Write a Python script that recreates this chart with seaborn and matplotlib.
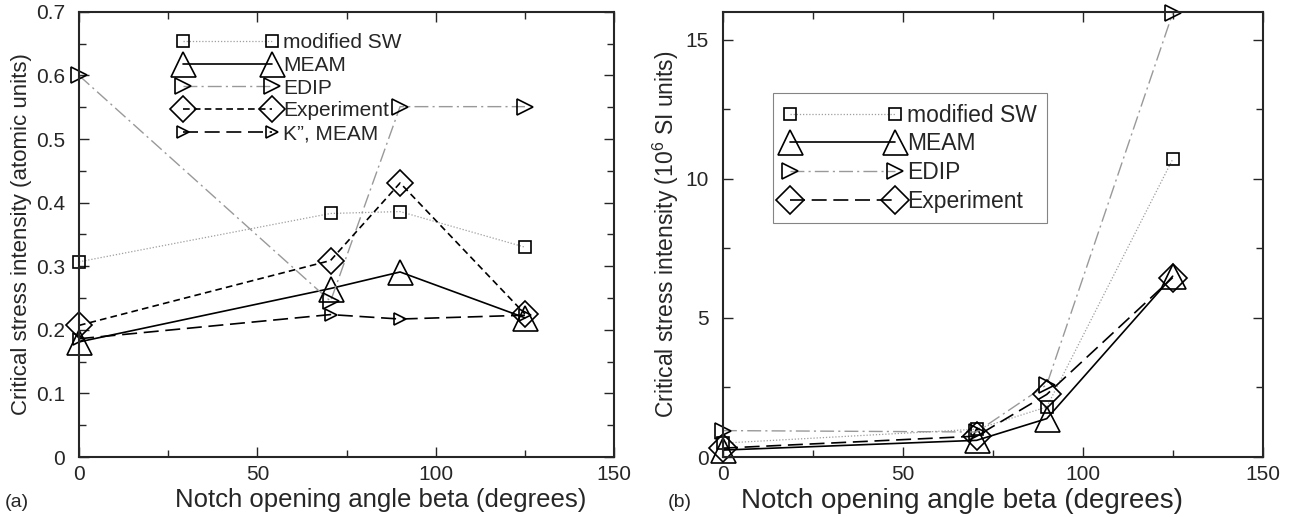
import pandas as pd
import matplotlib.pyplot as plt
import seaborn as sns

# notch opening angles (degrees)
beta = [0, 70.5, 90, 125]

# panel (a): critical stress intensity, atomic units
a_sw = [0.307, 0.383, 0.386, 0.330]
a_meam = [0.181, 0.265, 0.291, 0.219]
a_edip = [0.600, 0.245, 0.551, 0.551]
a_exp = [0.207, 0.309, 0.431, 0.225]
a_kpp = [0.186, 0.224, 0.217, 0.223]

# panel (b): critical stress intensity, 10^6 SI units
b_sw = [0.50, 1.00, 1.80, 10.70]
b_meam = [0.25, 0.60, 1.38, 6.50]
b_edip = [0.95, 0.90, 2.60, 15.95]
b_exp = [0.32, 0.75, 2.25, 6.45]

sns.set_style('ticks')
plt.rcParams['font.family'] = ['Liberation Sans', 'DejaVu Sans']
plt.rcParams['mathtext.fontset'] = 'custom'
plt.rcParams['mathtext.rm'] = 'Liberation Sans'
plt.rcParams['mathtext.it'] = 'Liberation Sans'

styles = {
    'modified SW': dict(color='0.62', ls=(0, (1, 1.5)), lw=0.9, marker='s', ms=9),
    'MEAM': dict(color='black', ls='-', lw=1.2, marker='^', ms=18),
    'EDIP': dict(color='0.6', ls=(0, (10, 3, 1.5, 3)), lw=1.0, marker='>', ms=12),
    'Experiment': dict(color='black', ls=(0, (4, 2.5)), lw=1.2, marker='D', ms=13),
    'K”, MEAM': dict(color='black', ls=(0, (9, 4)), lw=1.2, marker='>', ms=9),
}


def draw(ax, series, overrides=None):
    overrides = overrides or {}
    for name, vals in series.items():
        df = pd.DataFrame({'beta': beta, 'K': vals})
        st = dict(styles[name])
        st.update(overrides.get(name, {}))
        sns.lineplot(data=df, x='beta', y='K', ax=ax, sort=False, label=name,
                     color=st['color'], linestyle=st['ls'], linewidth=st['lw'],
                     marker=st['marker'], markersize=st['ms'],
                     markerfacecolor='none', markeredgecolor='black',
                     markeredgewidth=1.2, clip_on=False)


fig = plt.figure(figsize=(12.91, 5.17), dpi=100)
ax1 = fig.add_axes([0.0612, 0.116, 0.4145, 0.861])
ax2 = fig.add_axes([0.560, 0.116, 0.418, 0.861])

draw(ax1, {'modified SW': a_sw, 'MEAM': a_meam, 'EDIP': a_edip,
           'Experiment': a_exp, 'K”, MEAM': a_kpp})
draw(ax2, {'modified SW': b_sw, 'MEAM': b_meam, 'EDIP': b_edip,
           'Experiment': b_exp},
     overrides={'Experiment': dict(ls=(0, (9, 4)), ms=14)})

for ax in (ax1, ax2):
    ax.set_xlim(0, 150)
    ax.set_xticks([0, 50, 100, 150])
    ax.set_xticks([25, 75, 125], minor=True)
    ax.tick_params(which='both', direction='in', top=True, right=True,
                   labelsize=15, width=1)
    ax.tick_params(axis='x', which='major', pad=6)
    ax.tick_params(axis='y', which='major', pad=10)
    ax.tick_params(which='major', length=7)
    ax.tick_params(which='minor', length=5)
    for sp in ax.spines.values():
        sp.set_linewidth(1.5)

ax1.set_xlabel('Notch opening angle beta (degrees)', fontsize=18.5)
ax2.set_xlabel('Notch opening angle beta (degrees)', fontsize=20)
ax1.xaxis.set_label_coords(0.563, -0.07)
ax2.xaxis.set_label_coords(0.443, -0.07)

ax1.set_ylim(0, 0.7)
ax1.set_yticks([0, 0.1, 0.2, 0.3, 0.4, 0.5, 0.6, 0.7])
ax1.set_yticklabels(['0', '0.1', '0.2', '0.3', '0.4', '0.5', '0.6', '0.7'])
ax1.set_yticks([0.05, 0.15, 0.25, 0.35, 0.45, 0.55, 0.65], minor=True)
ax1.set_ylabel('Critical stress intensity (atomic units)', fontsize=16)
ax1.yaxis.set_label_coords(-0.088, 0.5)

ax2.set_ylim(0, 16)
ax2.set_yticks([0, 5, 10, 15])
ax2.set_yticks([2.5, 7.5, 12.5], minor=True)
ax2.set_ylabel('Critical stress intensity (10$^6$ SI units)', fontsize=16.5)
ax2.yaxis.set_label_coords(-0.077, 0.5)

leg1 = ax1.legend(loc='upper left', bbox_to_anchor=(0.155, 0.985), frameon=False,
                  numpoints=2, handlelength=4.9, handletextpad=0.2,
                  labelspacing=0.18, fontsize=15, borderpad=0.2)
leg2 = ax2.legend(loc='upper left', bbox_to_anchor=(0.092, 0.817), frameon=True,
                  numpoints=2, handlelength=5.2, handletextpad=0.2,
                  labelspacing=0.25, fontsize=16.5, borderpad=0.45,
                  borderaxespad=0, fancybox=False)
leg2.get_frame().set_edgecolor('0.4')
leg2.get_frame().set_linewidth(0.8)

fig.text(0.004, 0.02, '(a)', fontsize=14)
fig.text(0.517, 0.02, '(b)', fontsize=14)

fig.savefig('out.png', dpi=100, facecolor='white')
